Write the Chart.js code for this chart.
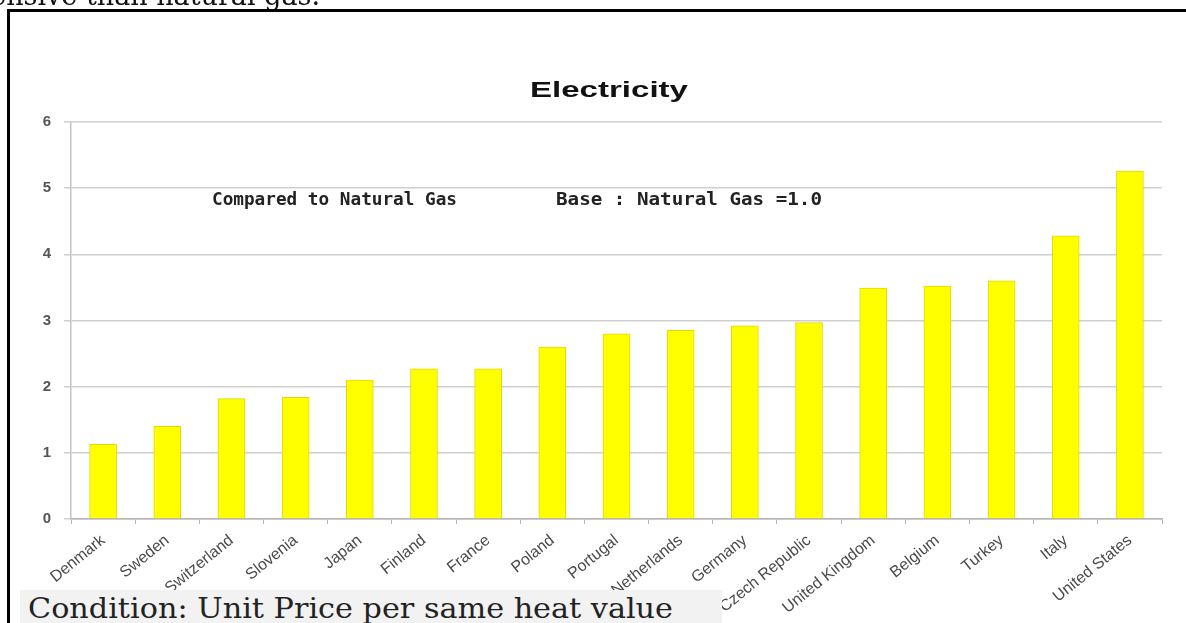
<!DOCTYPE html>
<html>
<head>
<meta charset="utf-8">
<script src="https://cdn.jsdelivr.net/npm/chart.js@4"></script>
<style>
  html, body { margin: 0; padding: 0; background: #fff; }
  body { width: 1186px; height: 623px; position: relative; overflow: hidden; }
  #chart { position: absolute; left: 0; top: 0; }
  .frame-left { position: absolute; left: 7px; top: 9px; width: 3px; height: 620px; background: #000; }
  .frame-top { position: absolute; left: 7px; top: 9px; width: 1190px; height: 3px; background: #000; }
  .lead { position: absolute; left: -220px; width: 540px; top: -20px; text-align: right;
          font-family: "DejaVu Serif", serif; font-size: 27px; color: #111; white-space: nowrap; }
  .caption { position: absolute; left: 20px; top: 590px; width: 702px; height: 40px; background: #f2f2f2; }
  .caption span { position: absolute; left: 8px; top: 2px; font-family: "DejaVu Serif", serif;
                  font-size: 28px; color: #222; white-space: nowrap; transform-origin: 0 0; }
</style>
</head>
<body>
<canvas id="chart" width="1186" height="623"></canvas>
<div class="lead">more expensive than natural gas.</div>
<div class="frame-left"></div>
<div class="frame-top"></div>
<div class="caption"><span id="captionText">Condition: Unit Price per same heat value</span></div>
<script>
// Electricity price relative to natural gas (natural gas = 1.0), per same heat value
const countries = [
  'Denmark', 'Sweden', 'Switzerland', 'Slovenia', 'Japan', 'Finland', 'France', 'Poland',
  'Portugal', 'Netherlands', 'Germany', 'Czech Republic', 'United Kingdom', 'Belgium',
  'Turkey', 'Italy', 'United States'
];
const priceRatio = [
  1.13, 1.40, 1.82, 1.84, 2.10, 2.27, 2.27, 2.60,
  2.80, 2.85, 2.92, 2.97, 3.49, 3.52,
  3.60, 4.28, 5.26
];
const yMin = 0;
const yMax = 6;
const yStep = 1;

const chartTitle = 'Electricity';
const noteLeft = 'Compared to Natural Gas';
const noteRight = 'Base : Natural Gas =1.0';

// Draws a line of text scaled horizontally so that it spans a given width
function drawWide(ctx, text, font, x, y, width, color, align) {
  ctx.save();
  ctx.font = font;
  const w = ctx.measureText(text).width;
  ctx.translate(x, y);
  ctx.scale(width / w, 1);
  ctx.fillStyle = color;
  ctx.textAlign = align;
  ctx.textBaseline = 'alphabetic';
  ctx.fillText(text, 0, 0);
  ctx.restore();
}

const headingPlugin = {
  id: 'headingText',
  afterDraw(chart) {
    const ctx = chart.ctx;
    drawWide(ctx, chartTitle, 'bold 22px "Liberation Sans", Arial, sans-serif', 609, 97, 158, '#111', 'center');
    drawWide(ctx, noteLeft, 'bold 17px "DejaVu Sans Mono", monospace', 212, 205, 245, '#222', 'left');
    drawWide(ctx, noteRight, 'bold 17px "DejaVu Sans Mono", monospace', 556, 205, 266, '#222', 'left');
  }
};

new Chart(document.getElementById('chart'), {
  type: 'bar',
  data: {
    labels: countries,
    datasets: [{
      data: priceRatio,
      backgroundColor: '#ffff00',
      borderColor: '#e8d600',
      borderWidth: 1,
      barThickness: 27
    }]
  },
  options: {
    responsive: false,
    animation: false,
    layout: { padding: { left: 0, right: 24, top: 122, bottom: 0 } },
    plugins: {
      legend: { display: false },
      title: { display: false },
      tooltip: { enabled: false }
    },
    scales: {
      x: {
        offset: true,
        grid: {
          offset: true,
          drawOnChartArea: false,
          drawTicks: true,
          tickLength: 5,
          color: '#b4b4b4',
          lineWidth: 1
        },
        border: { color: '#b4b4b4', width: 1.5 },
        ticks: {
          minRotation: 39,
          maxRotation: 39,
          autoSkip: false,
          padding: 7,
          color: '#4a4a4a',
          font: { family: '"Liberation Sans", Arial, sans-serif', size: 16 }
        },
        afterFit(scale) { scale.height = 104; }
      },
      y: {
        min: yMin,
        max: yMax,
        ticks: {
          stepSize: yStep,
          padding: 13,
          color: '#555',
          font: { family: '"Liberation Sans", Arial, sans-serif', size: 15, weight: 'bold' }
        },
        grid: {
          color: '#cfcfcf',
          lineWidth: 1.5,
          tickLength: 7
        },
        border: { color: '#c4c4c4', width: 1.5 },
        afterFit(scale) { scale.width = 71; }
      }
    }
  },
  plugins: [headingPlugin]
});

// Fit the caption line to its box width
(function () {
  const el = document.getElementById('captionText');
  const w = el.getBoundingClientRect().width;
  el.style.transform = 'scaleX(' + (645 / w) + ')';
})();
</script>
</body>
</html>
